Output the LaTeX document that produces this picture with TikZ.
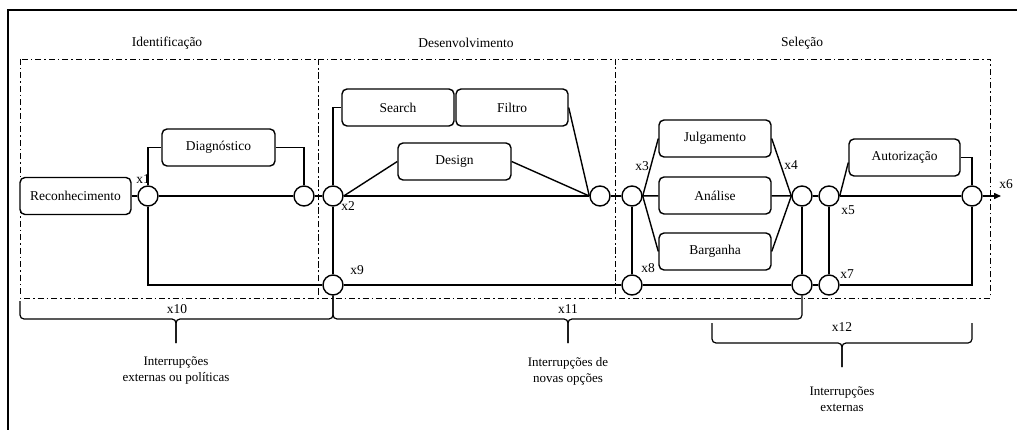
\documentclass[tikz,border=0pt]{standalone}
\usepackage{fontspec}
\setmainfont{Liberation Serif}
\usetikzlibrary{arrows.meta}
\tikzset{
  stage/.style={draw=black, line width=0.9pt, dash pattern=on 6pt off 3pt on 1.5pt off 3pt},
  act/.style={draw=black, line width=1.4pt, rounded corners=5pt, minimum width=112pt, minimum height=37pt, inner sep=0pt, fill=white, font=\fontsize{13.5}{15}\selectfont},
  junc/.style={draw=black, line width=1.4pt, circle, minimum size=20pt, inner sep=0pt, fill=white},
  conn/.style={draw=black, line width=1.4pt},
  lbl/.style={font=\fontsize{13.5}{15}\selectfont, inner sep=0pt},
  brc/.style={draw=black, line width=1.2pt, rounded corners=4pt},
  note/.style={font=\fontsize{13}{16}\selectfont, align=center, inner sep=0pt},
}
\begin{document}
\begin{tikzpicture}[x=1pt,y=-1pt]
\useasboundingbox (0,0) rectangle (1017,430);
% outer frame
\draw[line width=2.2pt] (8,431) -- (8,10) -- (1018,10);
% stage boxes
\draw[stage] (20,59) rectangle (318,298);
\draw[stage] (318,59) rectangle (615,298);
\draw[stage] (615,59) rectangle (990,298);
\node[lbl] (hId) at (167,43) {Identificação};
\node[lbl] (hDe) at (466,43) {Desenvolvimento};
\node[lbl] (hSe) at (802,43) {Seleção};
% activities
\node[act, minimum width=111pt] (rec) at (75.5,196) {Reconhecimento};
\node[act, minimum width=113pt] (diag) at (218.5,147.5) {Diagnóstico};
\node[act] (search) at (398,107.5) {Search};
\node[act] (filtro) at (512,107.5) {Filtro};
\node[act, minimum width=113pt] (design) at (454.5,161.5) {Design};
\node[act] (julg) at (715,138.5) {Julgamento};
\node[act] (anal) at (715,195.5) {Análise};
\node[act] (barg) at (715,251.5) {Barganha};
\node[act, minimum width=111pt] (aut) at (904.5,157.5) {Autorização};
% junctions
\node[junc] (x1) at (148,196) {};
\node[junc] (c1) at (304,196) {};
\node[junc] (x2) at (333,196) {};
\node[junc] (x9) at (333,285) {};
\node[junc] (c2) at (600,196) {};
\node[junc] (x3) at (632,196) {};
\node[junc] (x8) at (632,285) {};
\node[junc] (x4) at (802,196) {};
\node[junc] (b4) at (802,285) {};
\node[junc] (x5) at (829,196) {};
\node[junc] (x7) at (829,285) {};
\node[junc] (c3) at (972,196) {};
\coordinate (x6e) at (1001,196);
% labels
\node[lbl] (lx1) at (143,179) {x1};
\node[lbl] (lx2) at (348,206) {x2};
\node[lbl] (lx9) at (357,270) {x9};
\node[lbl] (lx3) at (642,166) {x3};
\node[lbl] (lx8) at (648,268) {x8};
\node[lbl] (lx4) at (791,165) {x4};
\node[lbl] (lx5) at (848,210) {x5};
\node[lbl] (lx7) at (847,274) {x7};
\node[lbl] (lx6) at (1006,184) {x6};
% connectors
\draw[conn] (rec) -- (x1);
\draw[conn] (x1) -- (c1);
\draw[conn] (x1.north) |- (diag.west);
\draw[conn] (diag.east) -| (c1.north);
\draw[conn] (x1.south) |- (x9.west);
\draw[conn] (c1) -- (x2);
\draw[conn] (x2) -- (c2);
\draw[conn] (x2.north) |- (search.west);
\draw[conn] (x2) -- (x9);
\draw[conn] (x2.east) -- (design.west);
\draw[conn] (design.east) -- (c2.west);
\draw[conn] (filtro.east) -- (c2.west);
\draw[conn] (c2) -- (x3);
\draw[conn] (x3) -- (anal);
\draw[conn] (x3.east) -- (julg.west);
\draw[conn] (x3.east) -- (barg.west);
\draw[conn] (anal) -- (x4);
\draw[conn] (julg.east) -- (x4.west);
\draw[conn] (barg.east) -- (x4.west);
\draw[conn] (x4) -- (x5);
\draw[conn] (x4) -- (b4);
\draw[conn] (x5) -- (x7);
\draw[conn] (x5) -- (c3);
\draw[conn] (x5.east) -- ([yshift=-5pt]aut.west);
\draw[conn] (aut.east) -| (c3.north);
\draw[conn, -{Triangle[length=7pt,width=6pt]}] (c3) -- (x6e);
\draw[conn] (x9) -- (x8);
\draw[conn] (x8) -- (b4);
\draw[conn] (b4) -- (x7);
\draw[conn] (x7) -| (c3.south);
\draw[conn] (x8) -- (x3);
% braces
\draw[brc] (20,301) -- (20,319) -- (176,319) -- (176,343);
\draw[brc] (x9.south) -- (333,319) -- (176,319) -- (176,343);
\draw[brc] (x9.south) -- (333,319) -- (568,319) -- (568,343);
\draw[brc] (b4.south) -- (802,319) -- (568,319) -- (568,343);
\draw[brc] (712,323) -- (712,343) -- (842,343) -- (842,367);
\draw[brc] (972,323) -- (972,343) -- (842,343) -- (842,367);
\node[lbl] (l10) at (177,309) {x10};
\node[lbl] (l11) at (568,309) {x11};
\node[lbl] (l12) at (842,327) {x12};
\node[note] (n10) at (176,371) {Interrupções\\externas ou políticas};
\node[note] (n11) at (568,371) {Interrupções de\\novas opções};
\node[note] (n12) at (842,399) {Interrupções\\externas};
\end{tikzpicture}
\end{document}
